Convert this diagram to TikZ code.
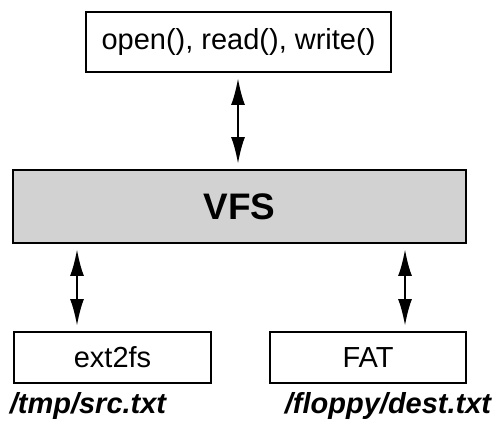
\documentclass[tikz,border=0pt]{standalone}
\usepackage{fontspec}
\setmainfont{Liberation Sans}
\usetikzlibrary{arrows.meta}

\tikzset{
  fsbox/.style={draw, line width=1.1pt, inner sep=0pt, font=\fontsize{16.5}{19}\selectfont},
  fsarrow/.style={line width=1.4pt, {Latex[length=5.4mm,width=2.8mm]}-{Latex[length=5.4mm,width=2.8mm]},
    shorten <=0.1cm, shorten >=0.1cm},
  pathlabel/.style={font=\fontsize{16.5}{19}\selectfont\bfseries\itshape}
}

\begin{document}
\begin{tikzpicture}
      \useasboundingbox (0,0) rectangle (9.94,8.56);
      % Boxes:
      \node[fsbox, minimum width=6.1cm, minimum height=1.2cm] (calls) at (4.77,7.72) {open(), read(), write()};
      \node[fsbox, fill=gray!35, minimum width=9.06cm, minimum height=1.46cm,
            font=\fontsize{21}{25}\selectfont\bfseries] (vfs) at (4.79,4.43) {VFS};
      \node[fsbox, minimum width=3.94cm, minimum height=1.02cm] (ext) at (2.25,1.41) {ext2fs};
      \node[fsbox, minimum width=3.92cm, minimum height=1.02cm] (fat) at (7.36,1.41) {FAT};
      % File names:
      \node[pathlabel] (src) at (1.76,0.44) {/tmp/src.txt};
      \node[pathlabel] (dest) at (7.76,0.44) {/floppy/dest.txt};
      % Arrows:
      \coordinate (mid) at (4.76,0);
      \coordinate (lft) at (1.54,0);
      \coordinate (rgt) at (8.10,0);
      \draw[fsarrow] (calls.south -| mid) -- (vfs.north -| mid);
      \draw[fsarrow] (vfs.south -| lft) -- (ext.north -| lft);
      \draw[fsarrow] (vfs.south -| rgt) -- (fat.north -| rgt);
    \end{tikzpicture}
\end{document}
